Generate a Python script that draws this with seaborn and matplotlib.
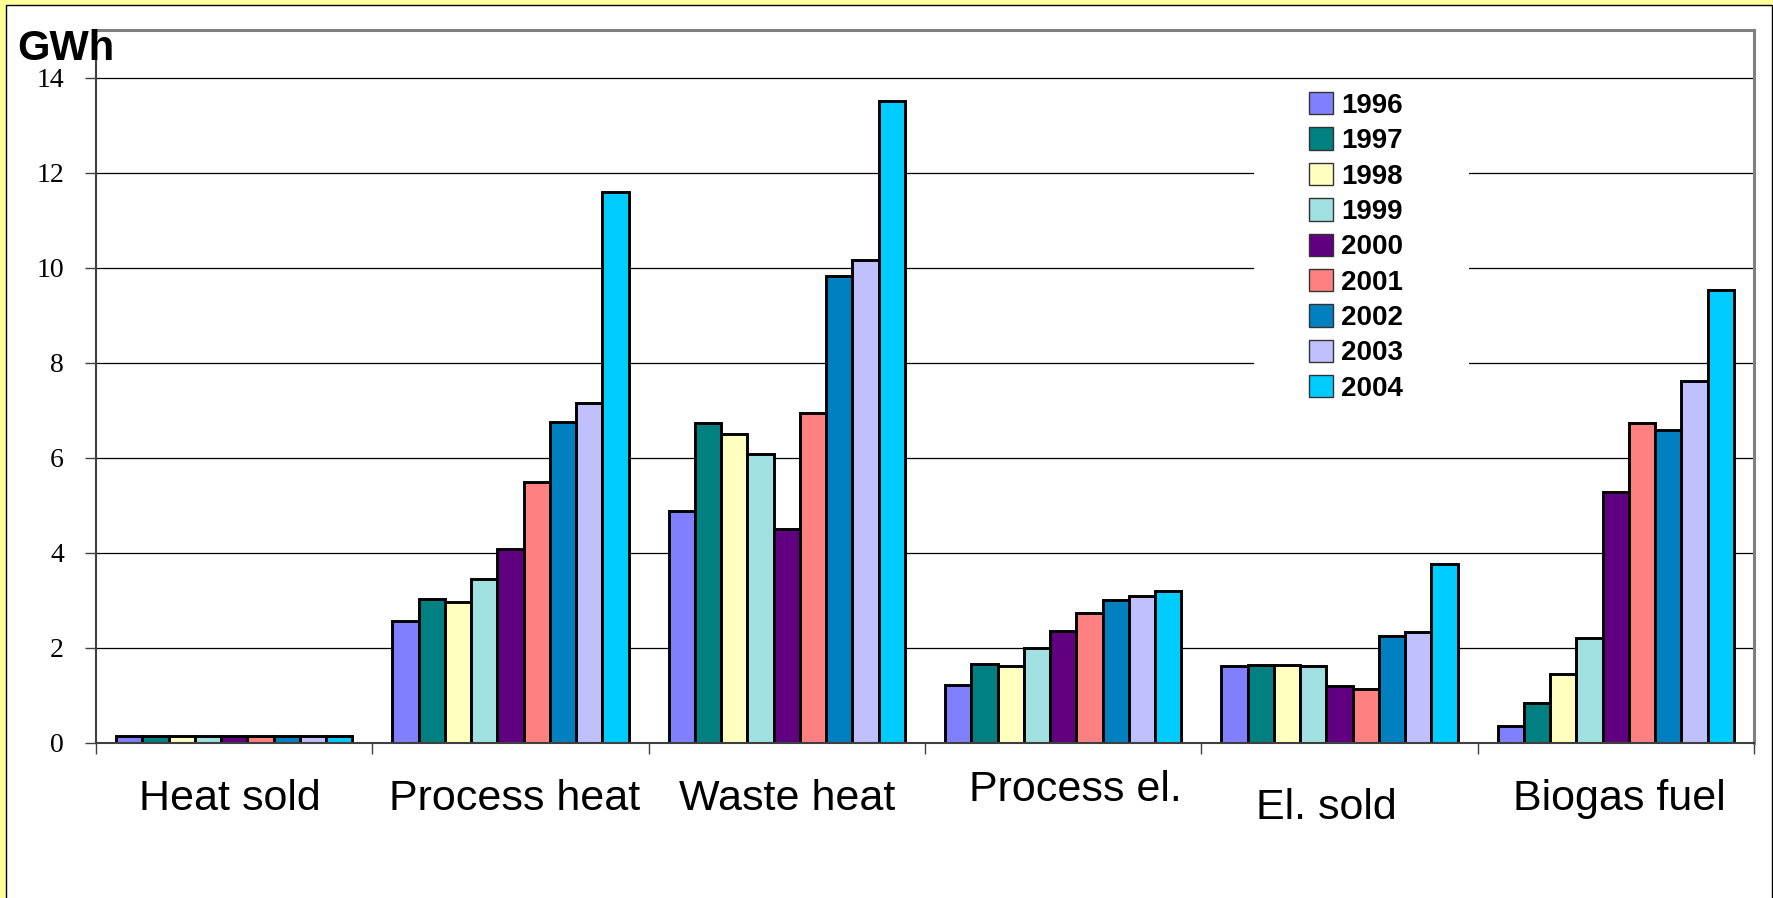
import numpy as np
import pandas as pd
import matplotlib
matplotlib.use("Agg")
import matplotlib.pyplot as plt
from matplotlib.patches import Rectangle, Patch
from matplotlib.transforms import ScaledTranslation
import seaborn as sns

# ---- data (GWh per year and energy stream) ----
categories = ["Heat sold", "Process heat", "Waste heat", "Process el.", "El. sold", "Biogas fuel"]
years = ["1996", "1997", "1998", "1999", "2000", "2001", "2002", "2003", "2004"]

heat_sold = [0.15, 0.15, 0.15, 0.15, 0.15, 0.15, 0.15, 0.15, 0.15]
process_heat = [2.57, 3.02, 2.97, 3.44, 4.08, 5.50, 6.75, 7.16, 11.60]
waste_heat = [4.88, 6.73, 6.51, 6.08, 4.50, 6.95, 9.82, 10.16, 13.51]
process_el = [1.23, 1.67, 1.62, 1.99, 2.35, 2.74, 3.00, 3.10, 3.20]
el_sold = [1.61, 1.65, 1.65, 1.62, 1.20, 1.14, 2.25, 2.33, 3.76]
biogas_fuel = [0.36, 0.84, 1.46, 2.21, 5.29, 6.73, 6.59, 7.62, 9.52]

year_colors = ["#8080FF", "#008080", "#FFFFC0", "#A0E0E0", "#600080",
               "#FF8080", "#0080C0", "#C0C0FF", "#00CCFF"]
y_ticks = [0, 2, 4, 6, 8, 10, 12, 14]

series = [heat_sold, process_heat, waste_heat, process_el, el_sold, biogas_fuel]
rows = []
for cat, vals in zip(categories, series):
    for yr, v in zip(years, vals):
        rows.append({"category": cat, "year": yr, "value": v})
df = pd.DataFrame(rows)

# ---- figure frame ----
W, H = 1774, 898
fig = plt.figure(figsize=(W / 100, H / 100), dpi=100, facecolor="#FFFF99")
fig.patches.append(Rectangle((6 / W, -0.05), (1772 - 6) / W, 1 - 5 / H + 0.05,
                             transform=fig.transFigure, facecolor="white",
                             edgecolor="black", linewidth=1.0, zorder=-1))

ax = fig.add_axes([96 / W, 1 - 743 / H, (1754 - 96) / W, (743 - 30) / H])
ax.set_facecolor("white")

sns.barplot(data=df, x="category", y="value", hue="year",
            order=categories, hue_order=years, palette=year_colors,
            width=0.855, saturation=1, errorbar=None,
            edgecolor="black", linewidth=2.1, legend=False, ax=ax)

ax.set_xlabel("")
ax.set_ylabel("")
ax.set_xlim(-0.5, len(categories) - 0.5)
ax.set_ylim(0, 15)

# grid and frame
ax.set_axisbelow(True)
ax.yaxis.grid(True, color="black", linewidth=0.9)
ax.xaxis.grid(False)
for side in ("top", "right"):
    ax.spines[side].set_color("#808080")
    ax.spines[side].set_linewidth(2.2)
for side in ("left", "bottom"):
    ax.spines[side].set_color("#404040")
    ax.spines[side].set_linewidth(1.5)

# y axis
ax.set_yticks(y_ticks)
ax.set_yticklabels([str(t) for t in y_ticks])
ax.tick_params(axis="y", length=8, width=1, direction="out", pad=15,
               labelsize=20, color="#404040")
for lbl in ax.get_yticklabels():
    lbl.set_family(["Liberation Serif", "DejaVu Serif"])

# x axis: labels at category centres, tick marks at category borders
ax.set_xticks(range(len(categories)))
ax.set_xticklabels(categories)
ax.set_xticks(np.arange(-0.5, len(categories), 1.0), minor=True)
ax.tick_params(axis="x", which="major", length=0, pad=26, labelsize=31)
ax.tick_params(axis="x", which="minor", length=8, width=1, direction="out",
               color="#404040")
label_shift = [(-4, 0), (4, 0), (0, 0), (12, -9), (-13, 9), (4, 0)]
for lbl, (dx, dy) in zip(ax.get_xticklabels(), label_shift):
    lbl.set_family(["Liberation Sans", "DejaVu Sans"])
    lbl.set_transform(lbl.get_transform() +
                      ScaledTranslation(dx / 100, -dy / 100, fig.dpi_scale_trans))

# legend on a white panel that hides the grid lines behind it
ax.add_patch(Rectangle((1254 / W, 1 - 405 / H), (1469 - 1254) / W, (405 - 85) / H,
                       transform=fig.transFigure, facecolor="white",
                       edgecolor="none", zorder=0.7, clip_on=False))
handles = [Patch(facecolor=c, edgecolor="#333333", linewidth=1.0) for c in year_colors]
ax.legend(handles=handles, labels=years, loc="upper left",
          bbox_to_anchor=(1309 / W, 1 - 92 / H), bbox_transform=fig.transFigure,
          frameon=False,
          prop={"family": ["Liberation Sans", "DejaVu Sans"], "weight": "bold", "size": 20},
          handlelength=0.86, handleheight=0.86, handletextpad=0.3,
          labelspacing=0.31, borderpad=0, borderaxespad=0)

fig.text(17 / W, 1 - 60 / H, "GWh", fontsize=30, fontweight="bold",
         family=["Liberation Sans", "DejaVu Sans"], ha="left", va="baseline")

fig.savefig("out.png", dpi=100, facecolor=fig.get_facecolor())
